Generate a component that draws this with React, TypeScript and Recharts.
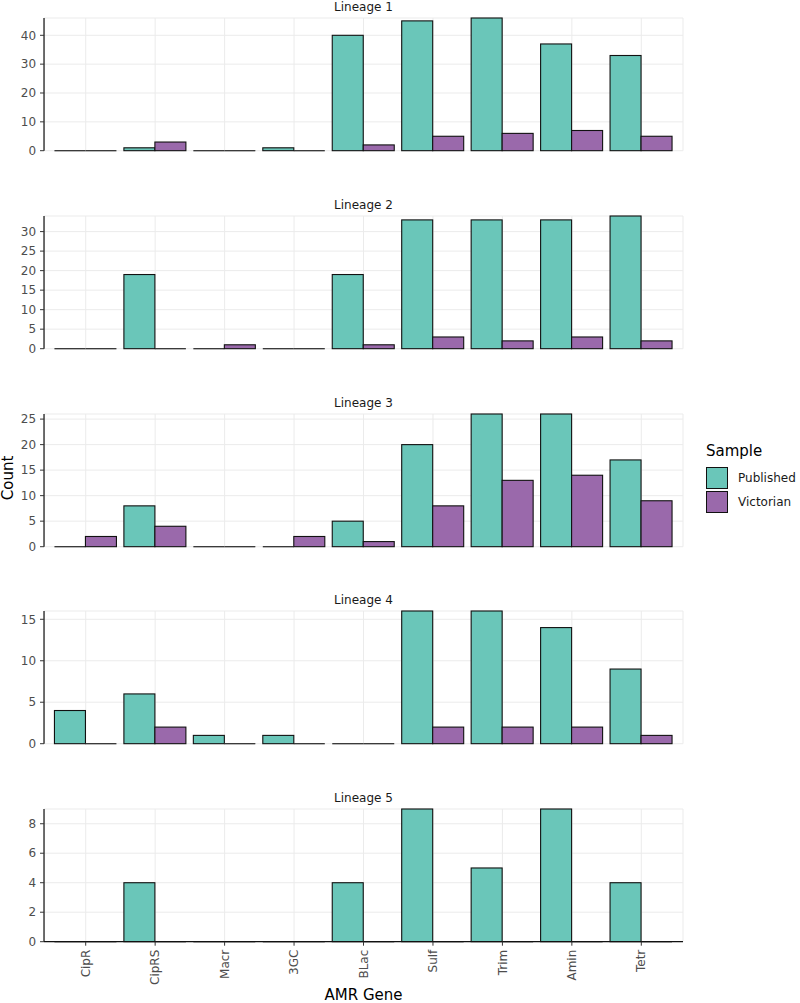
import { BarChart, Bar, XAxis, YAxis, CartesianGrid } from "recharts"

const genes = ["CipR", "CipRS", "Macr", "3GC", "BLac", "Sulf", "Trim", "Amin", "Tetr"]
const lineageNames = ["Lineage 1", "Lineage 2", "Lineage 3", "Lineage 4", "Lineage 5"]

// counts per gene, in the same order as `genes`
const publishedL1 = [0, 1, 0, 1, 40, 45, 46, 37, 33]
const victorianL1 = [0, 3, 0, 0, 2, 5, 6, 7, 5]
const publishedL2 = [0, 19, 0, 0, 19, 33, 33, 33, 34]
const victorianL2 = [0, 0, 1, 0, 1, 3, 2, 3, 2]
const publishedL3 = [0, 8, 0, 0, 5, 20, 26, 26, 17]
const victorianL3 = [2, 4, 0, 2, 1, 8, 13, 14, 9]
const publishedL4 = [4, 6, 1, 1, 0, 16, 16, 14, 9]
const victorianL4 = [0, 2, 0, 0, 0, 2, 2, 2, 1]
const publishedL5 = [0, 4, 0, 0, 4, 9, 5, 9, 4]
const victorianL5 = [0, 0, 0, 0, 0, 0, 0, 0, 0]

const ticksL1 = [0, 10, 20, 30, 40]
const ticksL2 = [0, 5, 10, 15, 20, 25, 30]
const ticksL3 = [0, 5, 10, 15, 20, 25]
const ticksL4 = [0, 5, 10, 15]
const ticksL5 = [0, 2, 4, 6, 8]

const publishedSeries = [publishedL1, publishedL2, publishedL3, publishedL4, publishedL5]
const victorianSeries = [victorianL1, victorianL2, victorianL3, victorianL4, victorianL5]
const tickSets = [ticksL1, ticksL2, ticksL3, ticksL4, ticksL5]

const PUBLISHED = "#6ac6b9"
const VICTORIAN = "#9a69ab"
const FONT = "'DejaVu Sans', sans-serif"

const PLOT_LEFT = 44
const PLOT_RIGHT = 683
const PANEL_H = 132.7
const PANEL_STEP = 197.7
const FIRST_TOP = 18.3
const TOP_PAD = 20
const BOTTOM_PAD = 10
const BAND = (PLOT_RIGHT - PLOT_LEFT) / 9.2
const X_PAD = BAND * 0.1

// outlined bar; zero counts still leave a flat stroke on the baseline
function OutlinedBar(props: any) {
  const { x, y, width, height, fill } = props
  if (!height || height <= 0) {
    return <line x1={x} x2={x + width} y1={y} y2={y} stroke="#333" strokeWidth={1.3} />
  }
  return <rect x={x} y={y} width={width} height={height} fill={fill} stroke="#111" strokeWidth={1.1} />
}

function GeneTick(props: any) {
  const { x, y, payload } = props
  return (
    <text
      x={x}
      y={y}
      transform={`rotate(-90, ${x}, ${y})`}
      textAnchor="end"
      dy="0.35em"
      fontSize={12}
      fill="#4d4d4d"
      fontFamily={FONT}
    >
      {payload.value}
    </text>
  )
}

function Panel({ index }: { index: number }) {
  const last = index === lineageNames.length - 1
  const rows = genes.map((g, i) => ({
    gene: g,
    published: publishedSeries[index][i],
    victorian: victorianSeries[index][i],
  }))
  const top = FIRST_TOP + index * PANEL_STEP - TOP_PAD
  const xAxisH = last ? 50 : 0
  const bottom = last ? 0 : BOTTOM_PAD
  return (
    <div style={{ position: "absolute", left: 0, top }}>
      <BarChart
        width={800}
        height={TOP_PAD + PANEL_H + xAxisH + bottom}
        data={rows}
        margin={{ top: TOP_PAD, right: 800 - PLOT_RIGHT, left: 0, bottom }}
        barCategoryGap="5%"
        barGap={0}
      >
        <CartesianGrid stroke="#ebebeb" strokeWidth={1} />
        <XAxis
          dataKey="gene"
          hide={!last}
          height={xAxisH}
          padding={{ left: X_PAD, right: X_PAD }}
          axisLine={{ stroke: "#111", strokeWidth: 1.2 }}
          tickLine={{ stroke: "#333" }}
          tickSize={4}
          tickMargin={4}
          interval={0}
          tick={<GeneTick />}
        />
        <YAxis
          width={PLOT_LEFT}
          domain={[0, "dataMax"]}
          ticks={tickSets[index]}
          interval={0}
          axisLine={{ stroke: "#111", strokeWidth: 1.2 }}
          tickLine={{ stroke: "#333" }}
          tickSize={4}
          tickMargin={4}
          tick={{ fontSize: 12, fill: "#4d4d4d", fontFamily: FONT }}
        />
        <Bar dataKey="published" fill={PUBLISHED} shape={<OutlinedBar />} isAnimationActive={false} />
        <Bar dataKey="victorian" fill={VICTORIAN} shape={<OutlinedBar />} isAnimationActive={false} />
      </BarChart>
      <div
        style={{
          position: "absolute",
          left: PLOT_LEFT,
          width: PLOT_RIGHT - PLOT_LEFT,
          top: TOP_PAD - 19,
          textAlign: "center",
          fontSize: 12,
          lineHeight: "16px",
          fontFamily: FONT,
          color: "#1a1a1a",
        }}
      >
        {lineageNames[index]}
      </div>
    </div>
  )
}

export default function App() {
  return (
    <div style={{ position: "absolute", left: 0, top: 0, width: 800, height: 1003, background: "#fff", fontFamily: FONT }}>
      {lineageNames.map((_, i) => (
        <Panel key={i} index={i} />
      ))}
      <div
        style={{
          position: "absolute",
          left: 8,
          top: 478,
          transform: "translate(-50%, -50%) rotate(-90deg)",
          fontSize: 15,
          color: "#000",
          whiteSpace: "nowrap",
        }}
      >
        Count
      </div>
      <div
        style={{
          position: "absolute",
          left: PLOT_LEFT,
          width: PLOT_RIGHT - PLOT_LEFT,
          top: 985,
          textAlign: "center",
          fontSize: 15,
          lineHeight: "20px",
          color: "#000",
        }}
      >
        AMR Gene
      </div>
      <div style={{ position: "absolute", left: 706, top: 441 }}>
        <div style={{ fontSize: 15, lineHeight: "20px", color: "#000", marginBottom: 5 }}>Sample</div>
        {[
          ["Published", PUBLISHED],
          ["Victorian", VICTORIAN],
        ].map(([label, color]) => (
          <div key={label} style={{ display: "flex", alignItems: "center", height: 24 }}>
            <div
              style={{
                width: 22,
                height: 22,
                background: color,
                border: "1.2px solid #111",
                boxSizing: "border-box",
              }}
            />
            <span style={{ fontSize: 12, marginLeft: 10, color: "#1a1a1a" }}>{label}</span>
          </div>
        ))}
      </div>
    </div>
  )
}
